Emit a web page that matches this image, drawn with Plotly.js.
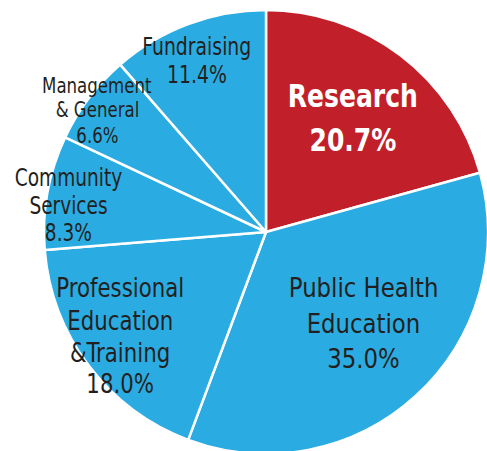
<!DOCTYPE html>
<html>
<head>
<meta charset="utf-8">
<script src="https://cdn.plot.ly/plotly-3.0.1.min.js"></script>
<style>
html,body{margin:0;padding:0;overflow:hidden;background:#fff;}
#chart{width:500px;height:470px;}
</style>
</head>
<body>
<div id="chart"></div>
<script>
// ---- data ----
var labels = ["Research", "Public Health Education", "Professional Education & Training", "Community Services", "Management & General", "Fundraising"];
var values = [20.7, 35.0, 18.0, 8.3, 6.6, 11.4];
var labelLines = [
  ["Research"],
  ["Public Health", "Education"],
  ["Professional", "Education", "&Training"],
  ["Community", "Services"],
  ["Management", "& General"],
  ["Fundraising"]
];
var sliceColors = ["#C1202A", "#2AACE2", "#2AACE2", "#2AACE2", "#2AACE2", "#2AACE2"];

// ---- label styling / placement (pixels) ----
var W = 500, H = 470;
var FONT = "Liberation Sans Narrow, DejaVu Sans Condensed, Arial Narrow, sans-serif";
var labelStyle = [
  {x: 353, base: [108, 152], size: 32, sx: 0.87, color: "#ffffff", weight: "bold"},
  {x: 363, base: [297, 333, 368], size: 27, sx: 0.94, color: "#231F20", weight: "normal"},
  {x: 120, base: [297, 330, 362, 393], size: 26, sx: 0.91, color: "#231F20", weight: "normal"},
  {x: 68,  base: [187, 215, 242], size: 24, sx: 0.86, color: "#231F20", weight: "normal"},
  {x: 97,  base: [93, 117, 143], size: 20.5, sx: 0.90, color: "#231F20", weight: "normal"},
  {x: 197, base: [55, 83], size: 24.5, sx: 0.855, color: "#231F20", weight: "normal"}
];

var annotations = [];
var annScale = [];
for (var i = 0; i < labels.length; i++) {
  var lines = labelLines[i].concat([values[i].toFixed(1) + "%"]);
  var st = labelStyle[i];
  for (var j = 0; j < lines.length; j++) {
    var txt = st.weight === "bold" ? "<b>" + lines[j] + "</b>" : lines[j];
    var cy = st.base[j] - st.size * 0.36;
    annotations.push({
      text: txt,
      xref: "paper", yref: "paper",
      x: st.x / W, y: 1 - cy / H,
      xanchor: "center", yanchor: "middle",
      showarrow: false,
      font: {family: FONT, size: st.size, color: st.color}
    });
    annScale.push(st.sx);
  }
}

var trace = {
  type: "pie",
  labels: labels,
  values: values,
  sort: false,
  direction: "clockwise",
  rotation: 0,
  textinfo: "none",
  hoverinfo: "label+percent",
  marker: {colors: sliceColors, line: {color: "#ffffff", width: 2.5}},
  domain: {x: [44 / W, 488 / W], y: [1 - 454 / H, 1 - 10 / H]}
};

var layout = {
  width: W, height: H,
  margin: {l: 0, r: 0, t: 0, b: 0},
  paper_bgcolor: "#ffffff",
  showlegend: false,
  annotations: annotations
};

Plotly.newPlot("chart", [trace], layout, {displayModeBar: false, staticPlot: true}).then(function () {
  // narrow the text horizontally to imitate the condensed typeface of the original
  var texts = document.querySelectorAll("#chart .annotation text.annotation-text");
  texts.forEach(function (t, k) {
    var s = annScale[k] || 1;
    var b = t.getBBox();
    var cx = b.x + b.width / 2;
    t.setAttribute("transform", "translate(" + cx + ",0) scale(" + s + ",1) translate(" + (-cx) + ",0)");
  });
});
</script>
</body>
</html>
